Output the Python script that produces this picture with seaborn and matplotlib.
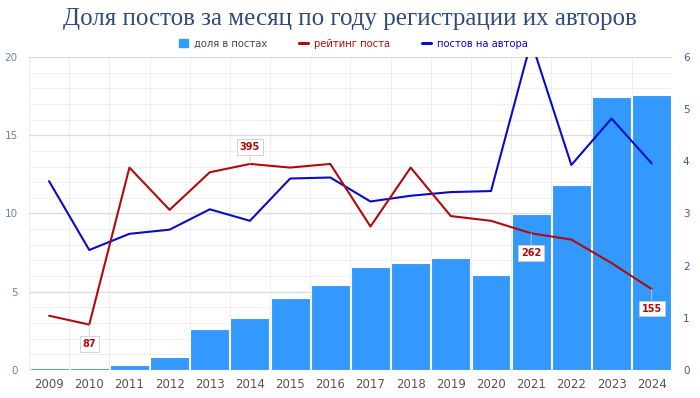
import matplotlib
matplotlib.use("Agg")
import matplotlib.pyplot as plt
import seaborn as sns
import pandas as pd
import numpy as np

years = ["2009", "2010", "2011", "2012", "2013", "2014", "2015", "2016",
         "2017", "2018", "2019", "2020", "2021", "2022", "2023", "2024"]
share_posts = [0.1, 0.15, 0.3, 0.85, 2.6, 3.3, 4.6, 5.4,
               6.6, 6.85, 7.15, 6.05, 9.95, 11.8, 17.45, 17.55]
post_rating = [104, 87, 388, 307, 379, 395, 388, 395,
               275, 388, 295, 286, 262, 250, 205, 155]
posts_per_author = [3.62, 2.3, 2.61, 2.69, 3.08, 2.86, 3.67, 3.69,
                    3.23, 3.34, 3.41, 3.43, 6.3, 3.93, 4.82, 3.96]
labeled = {1: "below", 5: "above", 12: "below", 15: "below"}

sns.set_theme(style="white")
plt.rcParams['font.family'] = ['DejaVu Sans']

BAR = "#3399FF"
RED = "#B00A0A"
BLUE = "#0A0ACC"

df = pd.DataFrame({"year": years, "share": share_posts,
                   "rating": post_rating, "ppa": posts_per_author,
                   "x": np.arange(len(years))})

fig = plt.figure(figsize=(7.0, 3.98), dpi=100)
ax = fig.add_axes([0.0414, 0.0704, 0.9183, 0.7864])

sns.barplot(data=df, x="year", y="share", ax=ax, color=BAR, width=0.97,
            edgecolor="white", linewidth=0.8, saturation=1, zorder=2)
ax.set_ylim(0, 20)
ax.set_xlim(-0.5, len(years) - 0.5)
ax.set_yticks([0, 5, 10, 15, 20])
ax.set_yticks(np.arange(0, 21, 1), minor=True)
ax.grid(axis="y", which="major", color="#DDDDDD", linewidth=1.0, zorder=0)
ax.grid(axis="y", which="minor", color="#F0F0F0", linewidth=0.7, zorder=0)
ax.set_xticks(np.arange(-0.5, len(years), 1), minor=True)
ax.grid(axis="x", which="minor", color="#EEEEEE", linewidth=0.7, zorder=0)
ax.set_axisbelow(True)
ax.set_xlabel("")
ax.set_ylabel("")
ax.tick_params(axis="y", which="both", length=0, labelsize=7.5, colors="#6F86A8", pad=8)
ax.tick_params(axis="x", which="both", length=0, labelsize=8.5, colors="#555555", pad=6)
for s in ax.spines.values():
    s.set_visible(False)

ax2 = ax.twinx()
sns.lineplot(data=df, x="x", y="ppa", ax=ax2, color=BLUE, linewidth=1.5, zorder=4)
ax2.set_ylim(0, 6)
ax2.set_yticks(range(0, 7))
ax2.set_ylabel("")
ax2.tick_params(axis="y", length=0, labelsize=7.5, colors="#4B4BB8", pad=8)
for s in ax2.spines.values():
    s.set_visible(False)

ax3 = ax.twinx()
sns.lineplot(data=df, x="x", y="rating", ax=ax3, color=RED, linewidth=1.5, zorder=5)
ax3.set_ylim(0, 600)
ax3.set_yticks([])
ax3.set_ylabel("")
for s in ax3.spines.values():
    s.set_visible(False)
ax3.set_xlim(-0.5, len(years) - 0.5)
ax2.set_xlim(-0.5, len(years) - 0.5)

for i, pos in labeled.items():
    v = post_rating[i]
    dy = -14 if pos == "below" else 12
    ax3.annotate(str(v), xy=(i, v), xytext=(0, dy), textcoords="offset points",
                 ha="center", va="center", fontsize=7, fontweight="bold", color=RED,
                 bbox=dict(boxstyle="square,pad=0.3", fc="white", ec="#CCCCCC", lw=0.6),
                 arrowprops=dict(arrowstyle="-", color="#CCCCCC", lw=0.6,
                                 shrinkA=0, shrinkB=0),
                 zorder=6)

fig.text(0.5, 0.952, "Доля постов за месяц по году регистрации их авторов",
         ha="center", va="center", fontsize=18, color="#2F4A7C",
         family=["Liberation Serif", "DejaVu Serif"])

from matplotlib.patches import Patch
from matplotlib.lines import Line2D
handles = [Patch(color=BAR), Line2D([0], [0], color=RED, lw=2.2),
           Line2D([0], [0], color=BLUE, lw=2.2)]
leg = fig.legend(handles, ["доля в постах", "рейтинг поста", "постов на автора"],
                 loc="center", bbox_to_anchor=(0.505, 0.89), ncol=3, frameon=False,
                 fontsize=7.2, handlelength=0.9, handleheight=0.9, columnspacing=3.2,
                 handletextpad=0.6)
for t, c in zip(leg.get_texts(), ["#444466", RED, BLUE]):
    t.set_color(c)

fig.savefig("out.png", dpi=100)
